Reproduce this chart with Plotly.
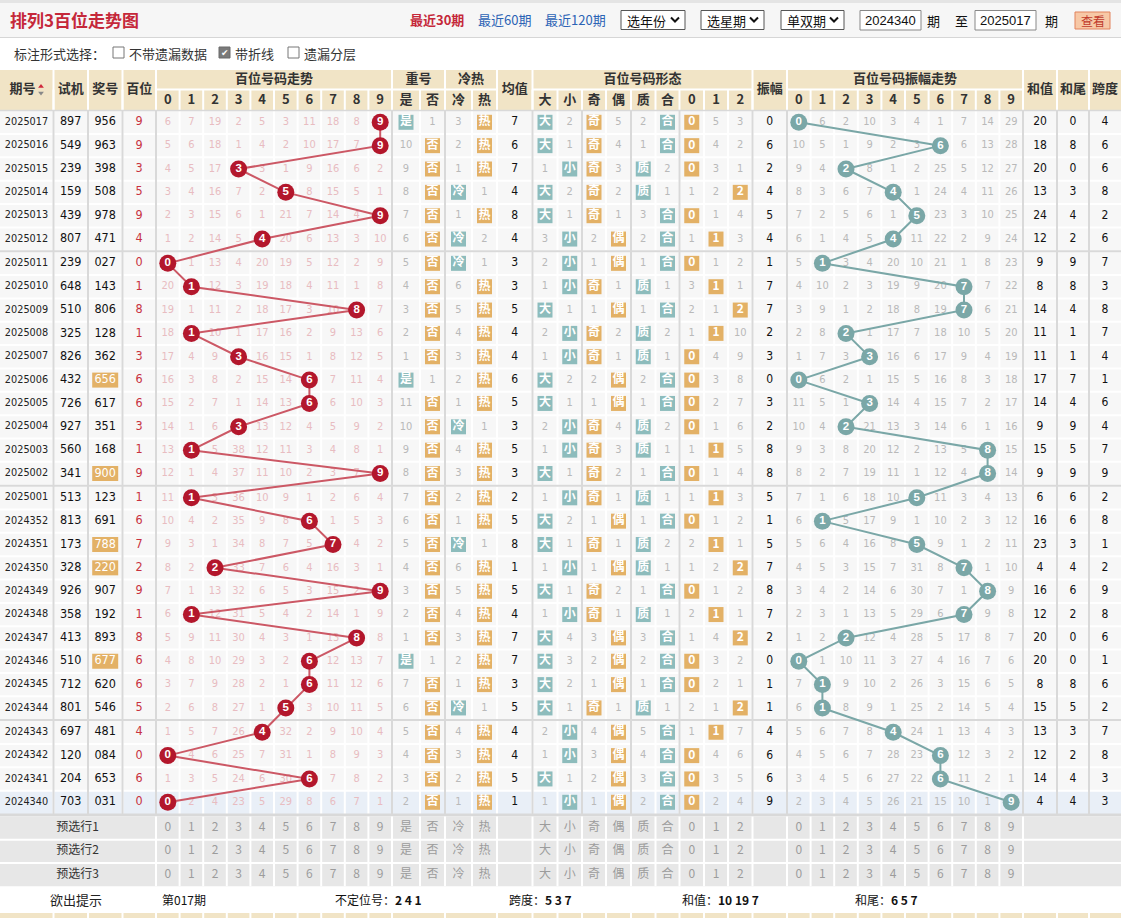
import plotly.graph_objects as go

W, H = 1121, 918

# ---------------- data ----------------
periods = ["2025017", "2025016", "2025015", "2025014", "2025013", "2025012", "2025011", "2025010",
           "2025009", "2025008", "2025007", "2025006", "2025005", "2025004", "2025003", "2025002",
           "2025001", "2024352", "2024351", "2024350", "2024349", "2024348", "2024347", "2024346",
           "2024345", "2024344", "2024343", "2024342", "2024341", "2024340"]
test_nums = ["897", "549", "239", "159", "439", "807", "239", "648", "510", "325", "826", "432", "726", "927",
             "560", "341", "513", "813", "173", "328", "926", "358", "413", "510", "712", "801", "697", "120",
             "204", "703"]
draw_nums = ["956", "963", "398", "508", "978", "471", "027", "143", "806", "128", "362", "656", "617", "351",
             "168", "900", "123", "691", "788", "220", "907", "192", "893", "677", "620", "546", "481", "084",
             "653", "031"]
hundreds = [9, 9, 3, 5, 9, 4, 0, 1, 8, 1, 3, 6, 6, 3, 1, 9, 1, 6, 7, 2, 9, 1, 8, 6, 6, 5, 4, 0, 6, 0]

# omission values of the hundreds digit 0-9 (0 = drawn)
trend_miss = [
    [6, 7, 19, 2, 5, 3, 11, 18, 8, 0],
    [5, 6, 18, 1, 4, 2, 10, 17, 7, 0],
    [4, 5, 17, 0, 3, 1, 9, 16, 6, 2],
    [3, 4, 16, 7, 2, 0, 8, 15, 5, 1],
    [2, 3, 15, 6, 1, 21, 7, 14, 4, 0],
    [1, 2, 14, 5, 0, 20, 6, 13, 3, 10],
    [0, 1, 13, 4, 20, 19, 5, 12, 2, 9],
    [20, 0, 12, 3, 19, 18, 4, 11, 1, 8],
    [19, 1, 11, 2, 18, 17, 3, 10, 0, 7],
    [18, 0, 10, 1, 17, 16, 2, 9, 13, 6],
    [17, 4, 9, 0, 16, 15, 1, 8, 12, 5],
    [16, 3, 8, 2, 15, 14, 0, 7, 11, 4],
    [15, 2, 7, 1, 14, 13, 0, 6, 10, 3],
    [14, 1, 6, 0, 13, 12, 4, 5, 9, 2],
    [13, 0, 5, 38, 12, 11, 3, 4, 8, 1],
    [12, 1, 4, 37, 11, 10, 2, 3, 7, 0],
    [11, 0, 3, 36, 10, 9, 1, 2, 6, 4],
    [10, 4, 2, 35, 9, 8, 0, 1, 5, 3],
    [9, 3, 1, 34, 8, 7, 5, 0, 4, 2],
    [8, 2, 0, 33, 7, 6, 4, 16, 3, 1],
    [7, 1, 13, 32, 6, 5, 3, 15, 2, 0],
    [6, 0, 12, 31, 5, 4, 2, 14, 1, 9],
    [5, 9, 11, 30, 4, 3, 1, 13, 0, 8],
    [4, 8, 10, 29, 3, 2, 0, 12, 13, 7],
    [3, 7, 9, 28, 2, 1, 0, 11, 12, 6],
    [2, 6, 8, 27, 1, 0, 3, 10, 11, 5],
    [1, 5, 7, 26, 0, 32, 2, 9, 10, 4],
    [0, 4, 6, 25, 7, 31, 1, 8, 9, 3],
    [1, 3, 5, 24, 6, 30, 0, 7, 8, 2],
    [0, 2, 4, 23, 5, 29, 8, 6, 7, 1],
]

# 重号 [是, 否]  (0 = hit)
repeat_miss = [[0, 1], [10, 0], [9, 0], [8, 0], [7, 0], [6, 0], [5, 0], [4, 0], [3, 0], [2, 0],
               [1, 0], [0, 1], [11, 0], [10, 0], [9, 0], [8, 0], [7, 0], [6, 0], [5, 0], [4, 0],
               [3, 0], [2, 0], [1, 0], [0, 1], [7, 0], [6, 0], [5, 0], [4, 0], [3, 0], [2, 0]]
# 冷热 [冷, 热]
coldhot_miss = [[3, 0], [2, 0], [1, 0], [0, 1], [1, 0], [0, 2], [0, 1], [6, 0], [5, 0], [4, 0],
                [3, 0], [2, 0], [1, 0], [0, 1], [4, 0], [3, 0], [2, 0], [1, 0], [0, 1], [6, 0],
                [5, 0], [4, 0], [3, 0], [2, 0], [1, 0], [0, 1], [4, 0], [3, 0], [2, 0], [1, 0]]
avg_vals = [7, 6, 7, 4, 8, 4, 3, 3, 5, 4, 4, 6, 5, 3, 5, 3, 2, 5, 8, 1, 5, 4, 7, 7, 3, 5, 4, 4, 5, 1]
# 形态 [大, 小]
bigsmall_miss = [[0, 2], [0, 1], [1, 0], [0, 2], [0, 1], [3, 0], [2, 0], [1, 0], [0, 1], [2, 0],
                 [1, 0], [0, 2], [0, 1], [2, 0], [1, 0], [0, 1], [1, 0], [0, 2], [0, 1], [1, 0],
                 [0, 1], [1, 0], [0, 4], [0, 3], [0, 2], [0, 1], [2, 0], [1, 0], [0, 1], [1, 0]]
# [奇, 偶]
oddeven_miss = [[0, 5], [0, 4], [0, 3], [0, 2], [0, 1], [2, 0], [1, 0], [0, 1], [1, 0], [0, 2],
                [0, 1], [2, 0], [1, 0], [0, 4], [0, 3], [0, 2], [0, 1], [1, 0], [0, 1], [1, 0],
                [0, 2], [0, 1], [3, 0], [2, 0], [1, 0], [0, 1], [4, 0], [3, 0], [2, 0], [1, 0]]
# [质, 合]
primecomp_miss = [[2, 0], [1, 0], [0, 2], [0, 1], [3, 0], [2, 0], [1, 0], [0, 1], [1, 0], [0, 2],
                  [0, 1], [2, 0], [1, 0], [0, 2], [0, 1], [1, 0], [0, 1], [1, 0], [0, 2], [0, 1],
                  [1, 0], [0, 1], [3, 0], [2, 0], [1, 0], [0, 1], [5, 0], [4, 0], [3, 0], [2, 0]]
# 012路 [0, 1, 2]
mod3_miss = [[0, 5, 3], [0, 4, 2], [0, 3, 1], [1, 2, 0], [0, 1, 4], [1, 0, 3], [0, 1, 2], [3, 0, 1],
             [2, 1, 0], [1, 0, 10], [0, 4, 9], [0, 3, 8], [0, 2, 7], [0, 1, 6], [1, 0, 5], [0, 1, 4],
             [1, 0, 3], [0, 1, 2], [2, 0, 1], [1, 2, 0], [0, 1, 2], [2, 0, 1], [1, 4, 0], [0, 3, 2],
             [0, 2, 1], [2, 1, 0], [1, 0, 7], [0, 4, 6], [0, 3, 5], [0, 2, 4]]
amplitude = [0, 6, 2, 4, 5, 4, 1, 7, 7, 2, 3, 0, 3, 2, 8, 8, 5, 1, 5, 7, 8, 7, 2, 0, 1, 1, 4, 6, 6, 9]
amp_miss = [
    [0, 6, 2, 10, 3, 4, 1, 7, 14, 29],
    [10, 5, 1, 9, 2, 3, 0, 6, 13, 28],
    [9, 4, 0, 8, 1, 2, 25, 5, 12, 27],
    [8, 3, 6, 7, 0, 1, 24, 4, 11, 26],
    [7, 2, 5, 6, 1, 0, 23, 3, 10, 25],
    [6, 1, 4, 5, 0, 11, 22, 2, 9, 24],
    [5, 0, 3, 4, 20, 10, 21, 1, 8, 23],
    [4, 10, 2, 3, 19, 9, 20, 0, 7, 22],
    [3, 9, 1, 2, 18, 8, 19, 0, 6, 21],
    [2, 8, 0, 1, 17, 7, 18, 10, 5, 20],
    [1, 7, 3, 0, 16, 6, 17, 9, 4, 19],
    [0, 6, 2, 1, 15, 5, 16, 8, 3, 18],
    [11, 5, 1, 0, 14, 4, 15, 7, 2, 17],
    [10, 4, 0, 21, 13, 3, 14, 6, 1, 16],
    [9, 3, 8, 20, 12, 2, 13, 5, 0, 15],
    [8, 2, 7, 19, 11, 1, 12, 4, 0, 14],
    [7, 1, 6, 18, 10, 0, 11, 3, 4, 13],
    [6, 0, 5, 17, 9, 1, 10, 2, 3, 12],
    [5, 6, 4, 16, 8, 0, 9, 1, 2, 11],
    [4, 5, 3, 15, 7, 31, 8, 0, 1, 10],
    [3, 4, 2, 14, 6, 30, 7, 1, 0, 9],
    [2, 3, 1, 13, 5, 29, 6, 0, 9, 8],
    [1, 2, 0, 12, 4, 28, 5, 17, 8, 7],
    [0, 1, 10, 11, 3, 27, 4, 16, 7, 6],
    [7, 0, 9, 10, 2, 26, 3, 15, 6, 5],
    [6, 0, 8, 9, 1, 25, 2, 14, 5, 4],
    [5, 6, 7, 8, 0, 24, 1, 13, 4, 3],
    [4, 5, 6, 7, 28, 23, 0, 12, 3, 2],
    [3, 4, 5, 6, 27, 22, 0, 11, 2, 1],
    [2, 3, 4, 5, 26, 21, 15, 10, 1, 0],
]
sum_vals = [20, 18, 20, 13, 24, 12, 9, 8, 14, 11, 11, 17, 14, 9, 15, 9, 6, 16, 23, 4, 16, 12, 20, 20, 8, 15, 13, 12, 14, 4]
sum_tail = [0, 8, 0, 3, 4, 2, 9, 8, 4, 1, 1, 7, 4, 9, 5, 9, 6, 6, 3, 4, 6, 2, 0, 0, 8, 5, 3, 2, 4, 4]
span_vals = [4, 6, 6, 8, 2, 6, 7, 3, 8, 7, 4, 1, 6, 4, 7, 9, 2, 8, 1, 2, 9, 8, 6, 1, 6, 2, 7, 8, 3, 3]

digit_labels = ["0", "1", "2", "3", "4", "5", "6", "7", "8", "9"]
preselect_labels = ["预选行1", "预选行2", "预选行3"]
hint_items = ["第017期", "不定位号：<b>2 4 1</b>", "跨度：<b>5 3 7</b>", "和值：<b>10 19 7</b>", "和尾：<b>6 5 7</b>"]

# ---------------- style ----------------
NARROW = "Liberation Sans Narrow, DejaVu Sans Condensed, Liberation Sans, sans-serif"
SANS = "Liberation Sans, Arial, sans-serif"
CJK = "Noto Sans CJK SC, sans-serif"
TEAL = "#8dbcbc"
ORANGE = "#e3b166"
RED = "#b3172c"
RED_LINE = "#cc5865"
PINK_TXT = "#e8bcc1"
GRAY_TXT = "#b9b9b9"
AMP_C = "#7aa7a7"
CELL = "#f7f7f7"
SEP = "#d9d9d9"
HEAD = "#f1e4c6"
HILITE_ROW = "#e9eff7"

# ---------------- layout geometry ----------------
N = len(periods)
TREND_L, CW = 156.0, 23.6
AMP_L = 787.0
trend_x = [TREND_L + CW * (k + 0.5) for k in range(10)]
amp_x = [AMP_L + CW * (k + 0.5) for k in range(10)]
rep_edges = [392, 420, 445]
cold_edges = [445, 472, 497]
shape_edges = [532.5, 557.5, 582, 606, 631, 655.5, 679.5, 704, 728, 752.5]
mid = lambda e: [(e[j] + e[j + 1]) / 2 for j in range(len(e) - 1)]
rep_x = mid(rep_edges)
cold_x = mid(cold_edges)
shape_x = mid(shape_edges)
X_PER, X_TEST, X_DRAW, X_HUND = 26.5, 70.7, 105.2, 139.2
X_AVG, X_AMPV, X_SUM, X_TAIL, X_SPAN = 514.7, 769.7, 1040, 1073, 1105

def row_c(i):
    return 122.3 + 23.35 * i + 0.95 * sum(i >= s for s in (6, 16, 26))

row_y = [row_c(i) for i in range(N)]
row_b = [110.6] + [(row_y[i] + row_y[i + 1]) / 2 for i in range(N - 1)] + [row_y[-1] + 11.8]
BODY_T, BODY_B = row_b[0], row_b[-1]

all_vert = ([53.5, 88, 122.5, 156] + [TREND_L + CW * k for k in range(1, 11)] + [420, 445, 472, 497]
            + shape_edges + [AMP_L + CW * k for k in range(0, 11)] + [1057, 1089])
group_vert = [53.5, 88, 122.5, 156, 392, 445, 532.5, 582, 631, 679.5, 752.5, 787, 1023, 1057, 1089]

shapes = []
ann = []
fig = go.Figure()


def rect(x0, y0, x1, y1, fill, line=None, lw=0, layer="below"):
    shapes.append(dict(type="rect", xref="x", yref="y", x0=x0, y0=y0, x1=x1, y1=y1, fillcolor=fill,
                       line=dict(color=line or fill, width=lw), layer=layer))


def hline(y, x0, x1, color, w, layer="below"):
    shapes.append(dict(type="line", xref="x", yref="y", x0=x0, x1=x1, y0=y, y1=y,
                       line=dict(color=color, width=w), layer=layer))


def vline(x, y0, y1, color, w, layer="below"):
    shapes.append(dict(type="line", xref="x", yref="y", x0=x, x1=x, y0=y0, y1=y1,
                       line=dict(color=color, width=w), layer=layer))


def text_trace(xs, ys, texts, size, color, family=NARROW, weight="normal"):
    fig.add_trace(go.Scatter(x=xs, y=ys, text=texts, mode="text", textposition="middle center",
                             textfont=dict(size=size, color=color, family=family, weight=weight),
                             hoverinfo="skip", showlegend=False, cliponaxis=False))


def label(x, y, text, size=13, color="#333", family=CJK, xanchor="left", bold=False):
    ann.append(dict(x=x, y=y, xref="x", yref="y", text=("<b>%s</b>" % text) if bold else text,
                    showarrow=False, xanchor=xanchor, yanchor="middle",
                    font=dict(size=size, color=color, family=family)))


# ---------------- top bar ----------------
rect(0, 0, W, 37, "#f6f6f6")
rect(0, 0, W, 3, "#e4e4e4")
hline(37.5, 0, W, "#d6d6d6", 1)
label(8, 19, "排列3百位走势图", 17, "#c5283a", bold=True)
label(408, 19, "最近30期", 13, "#c5283a", bold=True)
label(476, 19, "最近60期", 13, "#2b63b5")
label(543, 19, "最近120期", 13, "#2b63b5")
for (x0, x1, t) in [(621, 685, "选年份"), (701, 764, "选星期"), (781, 844, "单双期")]:
    rect(x0, 10.5, x1, 29.5, "white", "#555555", 1, layer="above")
    label(x0 + 4, 20, t, 13, "#111")
    cx = x1 - 10
    shapes.append(dict(type="path", xref="x", yref="y",
                       path="M %f 17.5 L %f 21.5 L %f 17.5" % (cx - 4, cx, cx + 4),
                       line=dict(color="#111", width=2), layer="above"))
rect(860, 10.5, 921, 30, "white", "#888888", 1, layer="above")
label(890.5, 20.5, "2024340", 13, "#111", SANS, xanchor="center")
label(933, 20, "期", 13, "#111", xanchor="center")
label(961, 20, "至", 13, "#111", xanchor="center")
rect(975, 10.5, 1036, 30, "white", "#888888", 1, layer="above")
label(1005.5, 20.5, "2025017", 13, "#111", SANS, xanchor="center")
label(1051, 20, "期", 13, "#111", xanchor="center")
rect(1075, 12, 1110, 29, "#f7c8a6", "#e2825c", 1, layer="above")
label(1092.5, 20.5, "查看", 12, "#c0392b", xanchor="center")

# options line
label(12, 53, "标注形式选择：", 13, "#333")
for (cx, t, checked) in [(113, "不带遗漏数据", False), (219, "带折线", True), (288, "遗漏分层", False)]:
    if checked:
        rect(cx, 47, cx + 11, 58, "#7a7a7a", "#6a6a6a", 1, layer="above")
        label(cx + 5.5, 52.5, "✔", 9, "white", "DejaVu Sans", xanchor="center")
    else:
        rect(cx, 47, cx + 11, 58, "white", "#777777", 1, layer="above")
    label(cx + 14, 53, t, 13, "#333")

# ---------------- header ----------------
HT, HM, HB = 69.5, 89.5, BODY_T
rect(0, HT, W, HB, HEAD)
groups = [(TREND_L, TREND_L + 10 * CW, "百位号码走势"), (392, 445, "重号"), (445, 497, "冷热"),
          (532.5, 752.5, "百位号码形态"), (AMP_L, AMP_L + 10 * CW, "百位号码振幅走势")]
for (x0, x1, t) in groups:
    hline(HM, x0, x1, "white", 2)
for x in [53.5, 88, 122.5, 156, 392, 445, 497, 532.5, 752.5, 787, 1023, 1057, 1089]:
    vline(x, HT, HB, "white", 2)
for x in all_vert:
    vline(x, HM, HB, "white", 2)
hline(HT, 0, W, "white", 1)

hx = [22.5, X_TEST, X_DRAW, X_HUND, X_AVG, X_AMPV, X_SUM, X_TAIL, X_SPAN]
ht = ["期号", "试机", "奖号", "百位", "均值", "振幅", "和值", "和尾", "跨度"]
text_trace(hx, [90] * len(hx), ht, 13, "#333", CJK, "bold")
text_trace([(g[0] + g[1]) / 2 for g in groups], [80] * len(groups), [g[2] for g in groups], 13, "#333", CJK, "bold")
sub_x = trend_x + rep_x + cold_x + shape_x + amp_x
sub_t = digit_labels + ["是", "否", "冷", "热", "大", "小", "奇", "偶", "质", "合", "0", "1", "2"] + digit_labels
text_trace(sub_x, [100.5] * len(sub_x), sub_t, 13, "#333", CJK, "bold")
fig.add_trace(go.Scatter(x=[41, 41], y=[86.5, 93], mode="markers",
                         marker=dict(symbol=["triangle-up", "triangle-down"], size=5, color=["#d0283c", "#888"]),
                         hoverinfo="skip", showlegend=False))

# ---------------- body grid ----------------
rect(0, BODY_T, W, BODY_B, CELL)
rect(0, row_b[N - 1], W, row_b[N], HILITE_ROW)
for b in row_b[1:-1]:
    hline(b, 0, W, "white", 2)
for x in all_vert:
    vline(x, BODY_T, BODY_B, "white", 2)
for x in group_vert:
    vline(x, BODY_T, BODY_B, SEP, 2)
for s in (6, 16, 26):
    hline(row_b[s], 0, W, SEP, 2)
hline(BODY_T, 0, W, SEP, 1.5)
hline(BODY_B + 1, 0, W, SEP, 3)

# ---------------- body text ----------------
text_trace([X_PER] * N, row_y, periods, 10.8, "#222")
text_trace([X_TEST] * N, row_y, test_nums, 12.5, "#111")
pair_rows = [i for i in range(N) if len(set(draw_nums[i])) < 3]
for i in pair_rows:
    rect(X_DRAW - 13, row_y[i] - 7.5, X_DRAW + 13, row_y[i] + 7.5, ORANGE)
text_trace([X_DRAW] * N, row_y, draw_nums, 12.5, ["white" if i in pair_rows else "#111" for i in range(N)])
text_trace([X_HUND] * N, row_y, [str(h) for h in hundreds], 12.5, "#c8323f")

# trend omissions
tx, ty, tt = [], [], []
ax_, ay_, at_ = [], [], []
for i in range(N):
    for k in range(10):
        if trend_miss[i][k] != 0:
            tx.append(trend_x[k]); ty.append(row_y[i]); tt.append(str(trend_miss[i][k]))
        if amp_miss[i][k] != 0:
            ax_.append(amp_x[k]); ay_.append(row_y[i]); at_.append(str(amp_miss[i][k]))
text_trace(tx, ty, tt, 11, PINK_TXT)
text_trace(ax_, ay_, at_, 11, GRAY_TXT)

# small omission cells and hit boxes
gx, gy, gt = [], [], []
boxes = {TEAL: ([], [], []), ORANGE: ([], [], [])}
col_sets = [
    (repeat_miss, rep_x, ["是", "否"], [TEAL, ORANGE]),
    (coldhot_miss, cold_x, ["冷", "热"], [TEAL, ORANGE]),
    (bigsmall_miss, shape_x[0:2], ["大", "小"], [TEAL, TEAL]),
    (oddeven_miss, shape_x[2:4], ["奇", "偶"], [ORANGE, ORANGE]),
    (primecomp_miss, shape_x[4:6], ["质", "合"], [TEAL, TEAL]),
    (mod3_miss, shape_x[6:9], ["0", "1", "2"], [ORANGE, ORANGE, ORANGE]),
]
for data, xs, labs, cols in col_sets:
    for i in range(N):
        for j, v in enumerate(data[i]):
            if v == 0:
                bx = boxes[cols[j]]
                bx[0].append(xs[j]); bx[1].append(row_y[i]); bx[2].append(labs[j])
            else:
                gx.append(xs[j]); gy.append(row_y[i]); gt.append(str(v))
text_trace(gx, gy, gt, 11, GRAY_TXT)
for c, (bx, by, bt) in boxes.items():
    fig.add_trace(go.Scatter(x=bx, y=by, text=bt, mode="markers+text", textposition="middle center",
                             marker=dict(symbol="square", size=15, color=c, line=dict(width=0)),
                             textfont=dict(size=12, color="white", family=CJK, weight="bold"),
                             hoverinfo="skip", showlegend=False))

text_trace([X_AVG] * N, row_y, [str(v) for v in avg_vals], 12, "#111")
text_trace([X_AMPV] * N, row_y, [str(v) for v in amplitude], 12, "#111")
text_trace([X_SUM] * N, row_y, [str(v) for v in sum_vals], 12, "#111")
text_trace([X_TAIL] * N, row_y, [str(v) for v in sum_tail], 12, "#111")
text_trace([X_SPAN] * N, row_y, [str(v) for v in span_vals], 12, "#111")

# trend polylines + balls
hx_ = [trend_x[h] for h in hundreds]
fig.add_trace(go.Scatter(x=hx_, y=row_y, mode="lines", line=dict(color=RED_LINE, width=2),
                         hoverinfo="skip", showlegend=False))
fig.add_trace(go.Scatter(x=hx_, y=row_y, mode="markers+text", text=[str(h) for h in hundreds],
                         textposition="middle center",
                         marker=dict(size=17, color=RED, line=dict(width=0)),
                         textfont=dict(size=11.5, color="white", family=SANS, weight="bold"),
                         hoverinfo="skip", showlegend=False))
amx = [amp_x[a] for a in amplitude]
fig.add_trace(go.Scatter(x=amx, y=row_y, mode="lines", line=dict(color=AMP_C, width=2),
                         hoverinfo="skip", showlegend=False))
fig.add_trace(go.Scatter(x=amx, y=row_y, mode="markers+text", text=[str(a) for a in amplitude],
                         textposition="middle center",
                         marker=dict(size=17, color=AMP_C, line=dict(width=0)),
                         textfont=dict(size=11.5, color="white", family=SANS, weight="bold"),
                         hoverinfo="skip", showlegend=False))

# ---------------- preselect rows ----------------
P_T = BODY_B + 2.5
P_H = 23.2
pre_y = [P_T + P_H * (r + 0.5) for r in range(3)]
rect(0, P_T, W, P_T + 3 * P_H, "#e7e7e7")
for r in range(1, 3):
    hline(P_T + P_H * r, 0, W, "white", 2)
for x in [156] + [TREND_L + CW * k for k in range(1, 11)] + [420, 445, 472, 497] + shape_edges + \
         [AMP_L + CW * k for k in range(0, 11)]:
    vline(x, P_T, P_T + 3 * P_H, "white", 2)
text_trace([77.5] * 3, pre_y, preselect_labels, 12, "#333", CJK)
pre_x = trend_x + rep_x + cold_x + shape_x + amp_x
pre_t = digit_labels + ["是", "否", "冷", "热", "大", "小", "奇", "偶", "质", "合", "0", "1", "2"] + digit_labels
for y in pre_y:
    text_trace(pre_x, [y] * len(pre_x), pre_t, 12, "#9c9c9c", CJK)

# ---------------- hint row ----------------
HINT_T = P_T + 3 * P_H
HINT_Y = HINT_T + 13
label(76, HINT_Y, "欲出提示", 13, "#222", xanchor="center")
for x, t in zip([160, 333, 507, 680, 853], hint_items):
    label(x, HINT_Y, t, 12, "#111")
rect(0, 913, W, H, HEAD)
for x in [53.5, 88, 122.5, 156] + [TREND_L + CW * k for k in range(1, 11)] + [445, 497] + shape_edges + \
         [AMP_L + CW * k for k in range(0, 11)] + [1057, 1089]:
    vline(x, 913, H, "white", 2)

fig.update_layout(width=W, height=H, margin=dict(l=0, r=0, t=0, b=0),
                  xaxis=dict(range=[0, W], visible=False, fixedrange=True),
                  yaxis=dict(range=[H, 0], visible=False, fixedrange=True),
                  plot_bgcolor="white", paper_bgcolor="white", showlegend=False,
                  shapes=shapes, annotations=ann)
fig.write_html("out.html", config={"displayModeBar": False})
